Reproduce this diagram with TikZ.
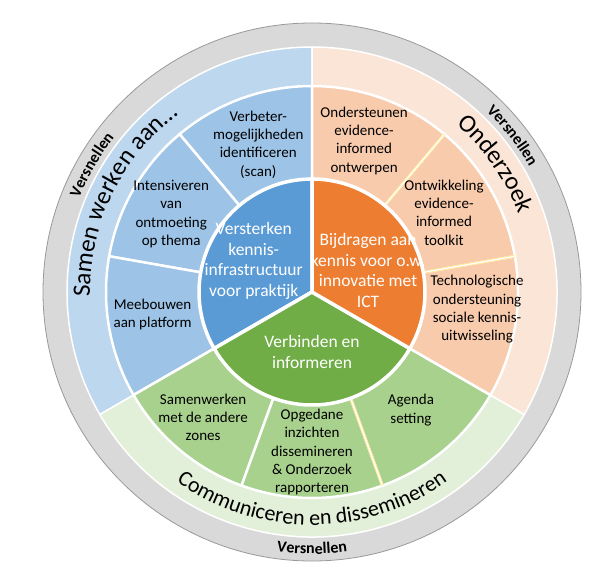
\documentclass[tikz,border=0pt]{standalone}
\usepackage{fontspec}
\setmainfont{Carlito}
\usetikzlibrary{decorations.text}
\definecolor{core_blue}{RGB}{91,155,213}
\definecolor{core_orange}{RGB}{237,125,49}
\definecolor{core_green}{RGB}{112,173,71}
\definecolor{mid_blue}{RGB}{157,195,230}
\definecolor{mid_orange}{RGB}{248,203,173}
\definecolor{mid_green}{RGB}{169,209,142}
\definecolor{out_blue}{RGB}{189,215,238}
\definecolor{out_orange}{RGB}{251,229,214}
\definecolor{out_green}{RGB}{226,240,217}
\definecolor{ring_gray}{RGB}{217,217,217}
\definecolor{cream}{RGB}{255,230,153}

\begin{document}
\begin{tikzpicture}[x=1pt, y=1pt,
      coretext/.style={text=white, align=center, font=\fontsize{17.5}{20.8}\selectfont},
      midtext/.style={text=black, align=center, font=\fontsize{15}{18.3}\selectfont},
      slice/.style={draw=white, line width=2.5pt},
      seam/.style={draw=cream, double=white, line width=0.9pt, double distance=1.2pt}]
  \useasboundingbox (0,0) rectangle (609,582);
  \begin{scope}[shift={(312,290)}]
    \fill[ring_gray, draw=black!40, line width=0.8pt] (0,0) circle (269);
    \foreach \a/\b/\c in {90/210/out_blue, 210/330/out_green, -30/90/out_orange}
      \filldraw[slice, line width=1.5pt, fill=\c] (0,0) -- (\a:245) arc[start angle=\a, end angle=\b, radius=245] -- cycle;
    \foreach \a/\c in {90/mid_blue, 130/mid_blue, 170/mid_blue, 210/mid_green, 250/mid_green,
                       290/mid_green, -30/mid_orange, 10/mid_orange, 50/mid_orange}
      \filldraw[slice, fill=\c] (0,0) -- (\a:206) arc[start angle=\a, delta angle=40, radius=206] -- cycle;
    \foreach \a in {50, 10, 290}
      \draw[seam] (\a:112) -- (\a:206);
    \foreach \a/\c in {90/core_blue, 210/core_green, -30/core_orange}
      \filldraw[slice, line width=3.5pt, fill=\c] (0,0) -- (\a:113) arc[start angle=\a, delta angle=120, radius=113] -- cycle;

    \path[decorate, decoration={text along path, text align=center,
        text={|\fontsize{25}{30}\selectfont|Samen werken aan…}}]
      (200:222) arc[start angle=200, end angle=108, radius=222];
    \path[decorate, decoration={text along path, text align=center,
        text={|\fontsize{25}{30}\selectfont|Onderzoek}}]
      (70:221) arc[start angle=70, end angle=0, radius=221];
    \path[decorate, decoration={text along path, text align=center,
        text={|\fontsize{22}{26}\selectfont|Communiceren en dissemineren}}]
      (215:233) arc[start angle=215, end angle=325, radius=233];
    \path[decorate, decoration={text along path, text align=center,
        text={|\fontsize{16}{19}\selectfont\bfseries|Versnellen}}]
      (175:251) arc[start angle=175, end angle=125, radius=251];
    \path[decorate, decoration={text along path, text align=center,
        text={|\fontsize{16}{19}\selectfont\bfseries|Versnellen}}]
      (63:251) arc[start angle=63, end angle=13, radius=251];
    \path[decorate, decoration={text along path, text align=center,
        text={|\fontsize{16}{19}\selectfont\bfseries|Versnellen}}]
      (245:262) arc[start angle=245, end angle=295, radius=262];

    \node[midtext] (scan) at (110:157) {Verbeter-\\mogelijkheden\\identificeren\\(scan)};
    \node[midtext] (meet) at (151:161) {Intensiveren\\van\\ontmoeting\\op thema};
    \node[midtext] (platform) at (188:161) {Meebouwen\\aan platform};
    \node[midtext] (design) at (71:160) {Ondersteunen\\evidence-\\informed\\ontwerpen};
    \node[midtext] (toolkit) at (31:154) {Ontwikkeling\\evidence-\\informed\\toolkit};
    \node[midtext] (tech) at (-6:166) {Technologische\\ondersteuning\\sociale kennis-\\uitwisseling};
    \node[midtext] (agenda) at (-50:154) {Agenda\\setting};
    \node[midtext] (report) at (270:160) {Opgedane\\inzichten\\dissemineren\\\& Onderzoek\\rapporteren};
    \node[midtext] (zones) at (229:166) {Samenwerken\\met de andere\\zones};

    \node[coretext] (infra) at (152:66) {Versterken\\kennis-\\infrastructuur\\voor praktijk};
    \node[coretext] (ict) at (21:60) {Bijdragen aan\\kennis voor o.w.\\innovatie met\\ICT};
    \node[coretext] (link) at (270:60) {Verbinden en\\informeren};
  \end{scope}
\end{tikzpicture}
\end{document}
